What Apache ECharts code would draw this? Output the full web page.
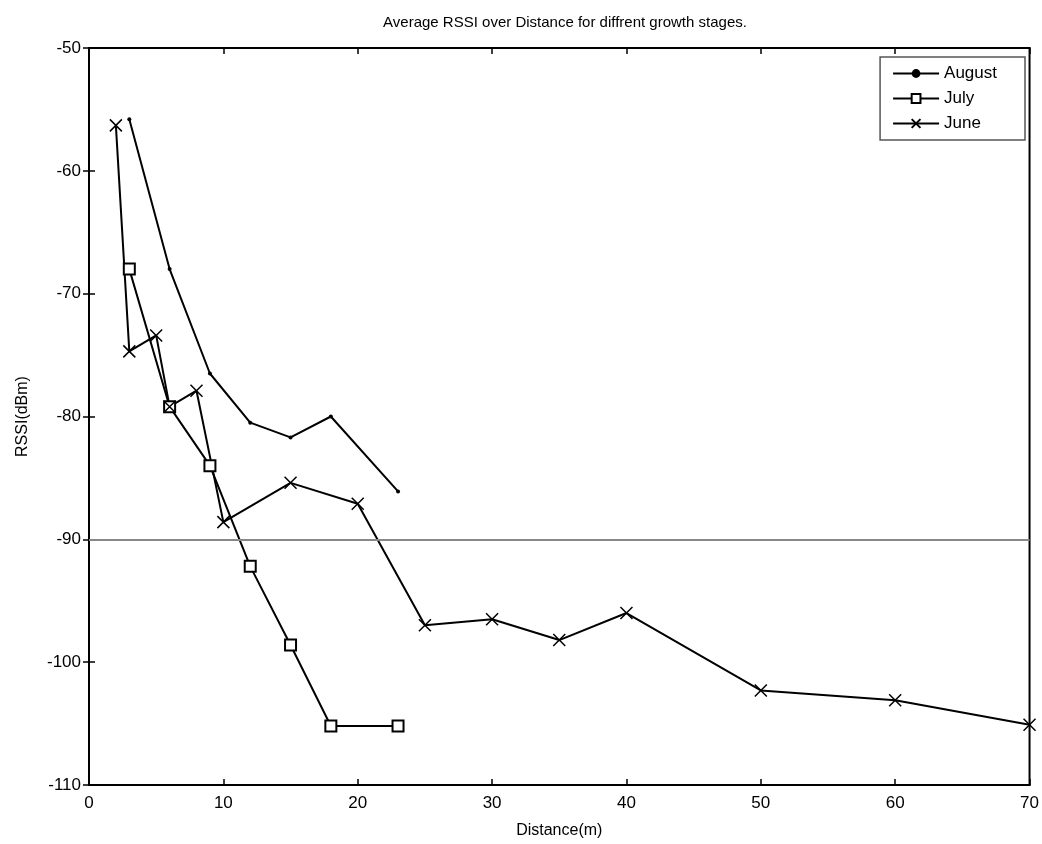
<!DOCTYPE html>
<html>
<head>
<meta charset="utf-8">
<script src="https://cdn.jsdelivr.net/npm/echarts@6/dist/echarts.min.js"></script>
<style>html,body{margin:0;padding:0;background:#fff}#c{width:1042px;height:844px}</style>
</head>
<body>
<div id="c"></div>
<script>
const augustX = [3, 6, 9, 12, 15, 18, 23];
const augustY = [-55.8, -68, -76.5, -80.5, -81.7, -80, -86.1];
const julyX = [3, 6, 9, 12, 15, 18, 23];
const julyY = [-68, -79.2, -84, -92.2, -98.6, -105.2, -105.2];
const juneX = [2, 3, 5, 6, 8, 10, 15, 20, 25, 30, 35, 40, 50, 60, 70];
const juneY = [-56.3, -74.7, -73.4, -79.2, -77.9, -88.6, -85.4, -87.1, -97, -96.5, -98.2, -96, -102.3, -103.1, -105.1];
const thresholdLevel = -90;
const xTicks = [0, 10, 20, 30, 40, 50, 60, 70];
const yTicks = [-110, -100, -90, -80, -70, -60, -50];

const pairs = (xs, ys) => xs.map((x, i) => [x, ys[i]]);
const font = 'Liberation Sans, Arial, sans-serif';
const chart = echarts.init(document.getElementById('c'));
const tickStyle = {show: true, inside: true, length: 6, lineStyle: {color: '#000', width: 1.5}};
chart.setOption({
  backgroundColor: '#fff',
  animation: false,
  title: {
    text: 'Average RSSI over Distance for diffrent growth stages.',
    left: 560, top: 10, textAlign: 'center',
    textStyle: {fontFamily: font, fontSize: 15, fontWeight: 'normal', color: '#000'}
  },
  legend: {
    right: 17, top: 57, orient: 'vertical',
    itemWidth: 46, itemHeight: 11, itemGap: 8,
    padding: [8, 28, 8, 12],
    borderColor: '#555', borderWidth: 1.5, backgroundColor: '#fff',
    textStyle: {fontFamily: font, fontSize: 17, color: '#000'},
    data: ['August', 'July', 'June']
  },
  grid: {left: 89, right: 10, top: 48, bottom: 57, show: true, borderColor: '#000', borderWidth: 2},
  xAxis: [{
    type: 'value', min: 0, max: 70, interval: 10, position: 'bottom',
    name: 'Distance(m)', nameLocation: 'middle', nameGap: 38,
    nameTextStyle: {fontFamily: font, fontSize: 16, color: '#000'},
    axisLine: {show: true, lineStyle: {color: '#000', width: 2}},
    axisTick: tickStyle, splitLine: {show: false},
    axisLabel: {fontFamily: font, fontSize: 17, color: '#000', margin: 10,
      formatter: v => xTicks.includes(v) ? String(v) : ''}
  }, {
    type: 'value', min: 0, max: 70, interval: 10, position: 'top',
    axisLine: {show: true, lineStyle: {color: '#000', width: 2}},
    axisTick: tickStyle, axisLabel: {show: false}, splitLine: {show: false}
  }],
  yAxis: [{
    type: 'value', min: -110, max: -50, interval: 10, position: 'left',
    name: 'RSSI(dBm)', nameLocation: 'middle', nameGap: 58, nameRotate: 90,
    nameTextStyle: {fontFamily: font, fontSize: 16, color: '#000'},
    axisLine: {show: true, lineStyle: {color: '#000', width: 2}},
    axisTick: tickStyle, splitLine: {show: false},
    axisLabel: {fontFamily: font, fontSize: 17, color: '#000', margin: 8,
      formatter: v => yTicks.includes(v) ? String(v) : ''}
  }, {
    type: 'value', min: -110, max: -50, interval: 10, position: 'right',
    axisLine: {show: true, lineStyle: {color: '#000', width: 2}},
    axisTick: tickStyle, axisLabel: {show: false}, splitLine: {show: false}
  }],
  series: [{
    name: 'August', type: 'line', data: pairs(augustX, augustY),
    symbol: 'circle', symbolSize: 4,
    lineStyle: {color: '#000', width: 2}, itemStyle: {color: '#000'},
    markLine: {
      silent: true, symbol: 'none', label: {show: false},
      lineStyle: {color: '#888', width: 2, type: 'solid'},
      data: [{yAxis: thresholdLevel}]
    }
  }, {
    name: 'July', type: 'line', data: pairs(julyX, julyY),
    symbol: 'emptyRect', symbolSize: 11,
    lineStyle: {color: '#000', width: 2}, itemStyle: {color: '#000', borderWidth: 2}
  }, {
    name: 'June', type: 'line', data: pairs(juneX, juneY),
    symbol: 'path://M0,0L10,10M10,0L0,10', symbolSize: 12, symbolKeepAspect: true,
    lineStyle: {color: '#000', width: 2},
    itemStyle: {color: '#000', borderColor: '#000', borderWidth: 1.5}
  }]
});
</script>
</body>
</html>
